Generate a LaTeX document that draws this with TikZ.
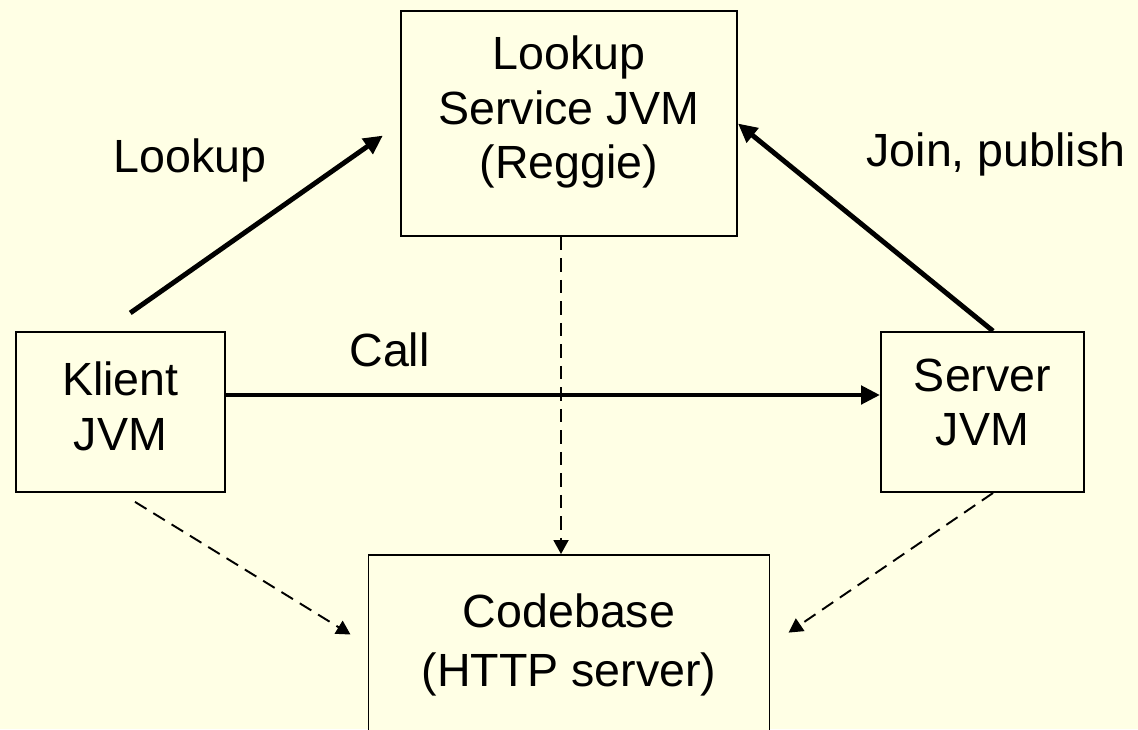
\documentclass[tikz,border=0pt]{standalone}
\usepackage{fontspec}
\setmainfont{Liberation Sans}
\usepackage{xcolor}
\usetikzlibrary{arrows.meta}

\definecolor{slidebg}{RGB}{255,255,229}

\begin{document}
\begin{tikzpicture}[
        node distance=5.77cm,
        jvmnode/.style={rectangle, draw=black, fill=slidebg, line width=1.1pt, align=center, inner sep=0pt, font=\fontsize{26.5}{31}\selectfont},
        labelnode/.style={anchor=base, inner sep=0pt, font=\fontsize{26.5}{31}\selectfont},
        callarrow/.style={-{Triangle[length=0.38cm, width=0.36cm]}, line width=2.8pt},
        codearrow/.style={-{Triangle[length=0.28cm, width=0.3cm]}, line width=1.1pt, dash pattern=on 0.27cm off 0.16cm},
    ]
    %Background
    \useasboundingbox (0,0) rectangle (22.76,-14.58);
    \fill[slidebg] (0,0) rectangle (22.76,-14.58);
    %Nodes
    \node[jvmnode, minimum width=6.72cm, minimum height=4.5cm]  (lookupnode) at (11.38,-2.47) {Lookup\\Service JVM\\(Reggie)\rule[-0.64cm]{0pt}{0pt}};
    \node[jvmnode, minimum width=4.18cm, minimum height=3.2cm]  (klientnode)  [below of= lookupnode, xshift=-8.97cm] {Klient\\JVM\rule[-0.24cm]{0pt}{0pt}};
    \node[jvmnode, minimum width=4.06cm, minimum height=3.2cm]  (servernode)  [below of= lookupnode, xshift=8.27cm] {Server\\JVM\rule[-0.4cm]{0pt}{0pt}};
    \node[jvmnode, minimum width=8.02cm, minimum height=3.6cm]  (codebasenode)  [below of= lookupnode, yshift=-4.66cm] {Codebase\\[0.1cm](HTTP server)};
    \node[labelnode]  (lookuplabel) at (3.8,-3.44) {Lookup};
    \node[labelnode]  (joinlabel) at (19.92,-3.33) {Join, publish};
    %Lines
    \draw[callarrow, shorten <=0.63cm, shorten >=0.42cm] ([xshift=-0.32cm]klientnode.north) -- (lookupnode.west);
    \draw[callarrow] ([xshift=0.21cm]servernode.north) -- (lookupnode.east);
    \draw[callarrow] ([yshift=0.34cm]klientnode.east) -- node[labelnode, pos=0.25, yshift=0.58cm] (calllabel) {Call} ([yshift=0.34cm]servernode.west);
    \draw[codearrow] ([xshift=-0.16cm]lookupnode.south) -- ([xshift=-0.16cm]codebasenode.north);
    \draw[codearrow, shorten <=0.34cm, shorten >=0.4cm] (klientnode.south) -- (codebasenode.west);
    \draw[codearrow, shorten >=0.44cm] ([xshift=0.21cm]servernode.south) -- (codebasenode.east);
\end{tikzpicture}
\end{document}
